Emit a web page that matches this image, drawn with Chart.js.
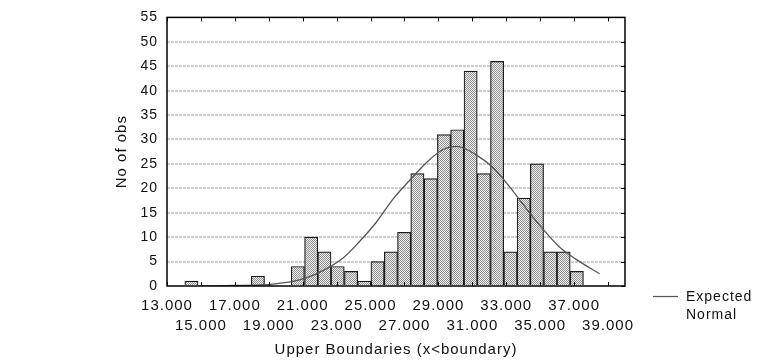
<!DOCTYPE html>
<html>
<head>
<meta charset="utf-8">
<script src="https://cdn.jsdelivr.net/npm/chart.js@4.4.1/dist/chart.umd.min.js"></script>
<style>
  html, body { margin: 0; padding: 0; background: #fff; }
  #wrap { width: 774px; height: 361px; }
</style>
</head>
<body>
<div id="wrap"><canvas id="myChart" width="774" height="361"></canvas></div>
<script>
// Histogram bins (centres) and counts
const binCentres = [14.44, 15.23, 16.01, 16.79, 17.58, 18.36, 19.14, 19.93, 20.71, 21.50,
                    22.28, 23.06, 23.85, 24.63, 25.41, 26.20, 26.98, 27.76, 28.55, 29.33,
                    30.11, 30.90, 31.68, 32.46, 33.25, 34.03, 34.81, 35.60, 36.38, 37.16];
const counts = [1, 0, 0, 0, 0, 2, 0, 0, 4, 10,
                7, 4, 3, 1, 5, 7, 11, 23, 22, 31,
                32, 44, 23, 46, 7, 18, 25, 7, 7, 3];

// Expected normal curve
const curveX = [15, 17, 18.5, 19.5, 20.5, 21.8, 23.4, 24.35, 25.35, 26.3, 27.3, 28.3,
                29.25, 30.1, 31.2, 32.2, 33.2, 34.15, 35.15, 36.1, 37.1, 38.5];
const curveY = [0.02, 0.1, 0.2, 0.5, 1.0, 2.5, 5.8, 9.1, 13.1, 17.7, 21.6, 25.3,
                27.9, 28.6, 26.9, 24.3, 20.3, 16.0, 11.7, 8.1, 5.5, 2.5];

const xTicks = [13, 15, 17, 19, 21, 23, 25, 27, 29, 31, 33, 35, 37, 39];
const yTicks = [0, 5, 10, 15, 20, 25, 30, 35, 40, 45, 50, 55];

const FONT = "'Liberation Sans', Arial, sans-serif";

// fine dotted fill like the original bars
function dotPattern(ctx) {
  const c = document.createElement('canvas');
  c.width = 2; c.height = 2;
  const g = c.getContext('2d');
  g.fillStyle = '#f2f2f2'; g.fillRect(0, 0, 2, 2);
  g.fillStyle = '#8e8e8e'; g.fillRect(0, 0, 1, 1); g.fillRect(1, 1, 1, 1);
  return ctx.createPattern(c, 'repeat');
}

// frame, inward tick marks and the legend
const framePlugin = {
  id: 'frame',
  beforeUpdate(chart) { chart.ctx.letterSpacing = '1px'; },
  beforeDraw(chart) { chart.ctx.letterSpacing = '1px'; },
  afterDatasetsDraw(chart) {
    const { ctx, chartArea: a, scales } = chart;
    ctx.save();
    ctx.strokeStyle = '#000';
    ctx.lineWidth = 1;
    ctx.beginPath();
    xTicks.forEach(v => {
      const px = Math.round(scales.x.getPixelForValue(v)) + 0.5;
      ctx.moveTo(px, a.top); ctx.lineTo(px, a.top + 4);
      ctx.moveTo(px, a.bottom); ctx.lineTo(px, a.bottom - 4);
    });
    yTicks.forEach(v => {
      const py = Math.round(scales.y.getPixelForValue(v)) + 0.5;
      ctx.moveTo(a.right, py); ctx.lineTo(a.right - 4, py);
    });
    ctx.stroke();
    ctx.lineWidth = 1.5;
    ctx.strokeRect(a.left, a.top, a.right - a.left, a.bottom - a.top);
    ctx.restore();
  },
  afterDraw(chart) {
    const ctx = chart.ctx;
    ctx.save();
    ctx.strokeStyle = '#555';
    ctx.lineWidth = 1.2;
    ctx.beginPath();
    ctx.moveTo(653, 296.5); ctx.lineTo(678, 296.5);
    ctx.stroke();
    ctx.fillStyle = '#111';
    ctx.font = '14px ' + FONT;
    ctx.textBaseline = 'middle';
    ctx.textAlign = 'left';
    ctx.fillText('Expected', 686, 297);
    ctx.fillText('Normal', 686, 315);
    ctx.restore();
  }
};

const ctx = document.getElementById('myChart').getContext('2d');

new Chart(ctx, {
  type: 'bar',
  data: {
    datasets: [
      {
        type: 'line',
        label: 'Expected Normal',
        data: curveX.map((x, i) => ({ x: x, y: curveY[i] })),
        borderColor: '#555',
        borderWidth: 1.3,
        pointRadius: 0,
        cubicInterpolationMode: 'monotone',
        fill: false,
        order: 1
      },
      {
        label: 'No of obs',
        data: binCentres.map((x, i) => ({ x: x, y: counts[i] })),
        backgroundColor: dotPattern(ctx),
        borderColor: '#1a1a1a',
        borderWidth: 1.2,
        barPercentage: 1,
        categoryPercentage: 1,
        order: 2
      }
    ]
  },
  plugins: [framePlugin],
  options: {
    responsive: false,
    animation: false,
    layout: { padding: { left: 109, top: 8, right: 149, bottom: 0 } },
    plugins: { legend: { display: false }, tooltip: { enabled: false } },
    scales: {
      x: {
        type: 'linear',
        min: 13,
        max: 40,
        offset: false,
        grid: { display: false, offset: false },
        border: { display: false },
        afterBuildTicks: s => { s.ticks = xTicks.map(v => ({ value: v })); },
        afterFit: s => { s.height = 75; },
        ticks: {
          autoSkip: false,
          maxRotation: 0,
          padding: 2,
          color: '#111',
          font: { family: FONT, size: 15, lineHeight: 1.33 },
          callback: (v, i) => {
            const t = Number(v).toFixed(3);
            return i % 2 === 0 ? [t, ''] : ['', t];
          }
        },
        title: {
          display: true,
          text: 'Upper Boundaries (x<boundary)',
          color: '#111',
          font: { family: FONT, size: 15 },
          padding: { top: 0, bottom: 2 }
        }
      },
      y: {
        min: 0,
        max: 55,
        afterBuildTicks: s => { s.ticks = yTicks.map(v => ({ value: v })); },
        afterFit: s => { s.width = 58; },
        grid: {
          color: v => (v.tick && (v.tick.value === 0 || v.tick.value === 55)) ? 'rgba(0,0,0,0)' : '#cdcdcd',
          lineWidth: 2,
          drawTicks: false
        },
        border: { display: false, dash: [3, 1] },
        ticks: {
          padding: 9,
          color: '#111',
          font: { family: FONT, size: 14 }
        },
        title: {
          display: true,
          text: 'No of obs',
          color: '#111',
          font: { family: FONT, size: 15 },
          padding: { top: 4, bottom: 0 }
        }
      }
    }
  }
});
</script>
</body>
</html>
